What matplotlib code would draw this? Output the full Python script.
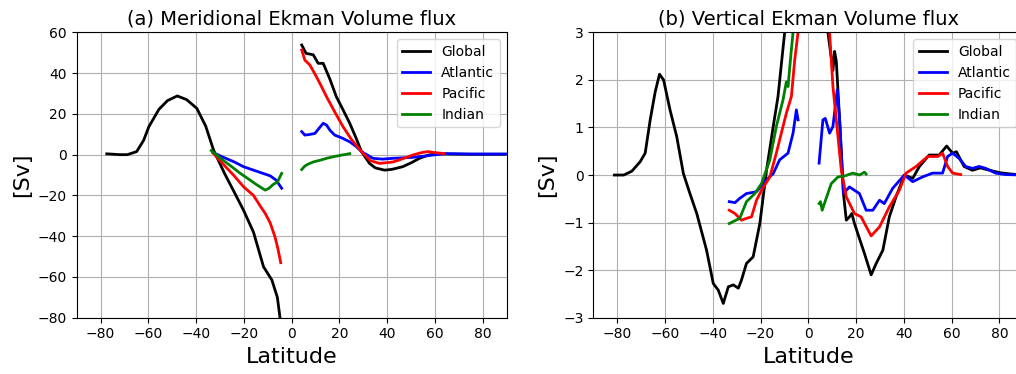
import numpy as np
import matplotlib
matplotlib.use("Agg")
from matplotlib import pyplot as plt

nan = np.nan

# (a) Meridional Ekman volume flux [Sv], south and north pieces split by nan
lat_a_glo = [-77.4, -72, -68.8, -64.9, -62, -59.8, -55.6, -52, -47.9, -44, -39.7, -36, -32.7, -28, -24, -20.2,
             -16, -11.8, -8.3, -6, -4.0,
             nan,
             4.2, 6.0, 9.0, 11.1, 13.2, 16, 18.7, 21.5, 24.3, 27, 29.2, 32.6, 35, 38.9, 42, 46.5, 50, 53.5, 57,
             60.5, 65, 75, 89]
val_a_glo = [0.4, 0.0, 0.0, 1.5, 7.0, 13.7, 22.2, 26.5, 28.8, 27.0, 22.7, 14.0, 2.2, -9.5, -18.5, -27.2,
             -38, -55, -61.5, -70, -88,
             nan,
             53.8, 49.7, 49.0, 44.8, 44.8, 37, 28.4, 22, 15.4, 8, 1.5, -4.3, -6.5, -7.6, -7.2, -5.9, -4, -1.8, -0.3,
             0.5, 0.3, 0.2, 0.2]

lat_a_atl = [-33, -28, -24, -20.2, -15, -11, -9, -6.5, -4.2,
             nan,
             4.2, 5.5, 7.5, 9.7, 11.5, 13.2, 14.6, 16, 18, 21, 24.3, 27, 29.2, 34, 38, 42.4, 46, 50.7, 55, 59,
             64.7, 75, 90]
val_a_atl = [1.0, -1.6, -3.6, -5.9, -8.0, -9.6, -10.4, -12.5, -16.5,
             nan,
             11.3, 9.6, 9.9, 10.4, 13.0, 15.4, 14.5, 12.0, 9.6, 8.2, 6.3, 4.0, 1.5, -1.8, -2.2, -1.8, -1.6, -1.3,
             -0.8, -0.2, 0.5, 0.3, 0.3]

lat_a_pac = [-32.7, -28, -24, -20.2, -16, -13, -11.1, -9, -7, -5.8, -4.6,
             nan,
             4.2, 5.5, 7.6, 10, 12, 14.6, 18, 21.5, 25, 29.2, 33, 36.8, 42.4, 46, 50.7, 54, 56.9, 60, 63.8]
val_a_pac = [0.5, -5.5, -10.5, -15.7, -20, -25.5, -28.8, -33.5, -40.3, -46, -53,
             nan,
             51.3, 46.4, 44.0, 39.0, 34.5, 28.4, 21.0, 13.7, 7.5, 1.5, -3.0, -4.3, -3.6, -2.2, -0.2, 0.9, 1.5, 1.0, 0.5]

lat_a_ind = [-33.7, -29, -25, -21.5, -18, -15, -11.1, -9.5, -7.6, -6, -4.2,
             nan,
             4.2, 5.5, 7, 9, 12, 14.6, 18, 21, 24.3]
val_a_ind = [2.0, -2.5, -6.0, -9.2, -12.0, -14.5, -17.4, -16.5, -14.5, -13.5, -9.2,
             nan,
             -7.3, -5.6, -4.6, -3.6, -2.7, -1.8, -0.9, -0.2, 0.5]

# (b) Vertical Ekman volume flux [Sv]
lat_b_glo = [-81.2, -77.3, -73.9, -70.4, -68.3, -66.2, -64.1, -62.3, -60.6, -57.9, -55.1, -52.3, -49.5, -46.7,
             -42.6, -39.8, -37.7, -35.6, -33.5, -31.4, -29.3, -28, -25.9, -23.1, -20.3, -17.5, -14.7, -12.7, -9.9,
             -8.5,
             nan,
             6.5, 8.2, 10.3, 11.0, 11.7, 13.1, 14.7, 15.9, 17.2, 18.2, 19.2, 20.7, 23.5, 26.3, 28.4, 31.2, 33.9,
             36.7, 40.2, 43.7, 46.5, 50.6, 54.8, 57.9, 60.4, 62.0, 65.2, 68.7, 72, 76, 80, 85, 90]
val_b_glo = [0.0, 0.0, 0.08, 0.28, 0.46, 1.16, 1.75, 2.12, 2.0, 1.37, 0.81, 0.03, -0.4, -0.81,
             -1.58, -2.28, -2.42, -2.70, -2.35, -2.31, -2.38, -2.21, -1.86, -1.72, -1.02, 0.1, 1.02, 1.65, 3.0,
             4.5,
             nan,
             4.5, 3.0, 2.2, 2.6, 2.4, 1.16, -0.39, -0.95, -0.88, -0.81, -1.0, -1.23, -1.65, -2.10, -1.86, -1.58, -0.88,
             -0.46, 0.0, -0.07, 0.18, 0.42, 0.42, 0.61, 0.46, 0.49, 0.18, 0.1, 0.15, 0.1, 0.05, 0.02, 0.0]

lat_b_atl = [-33.1, -30.7, -28.7, -25.9, -21.7, -17.5, -14.7, -12.0, -8.5, -6.4, -5.0, -4.3,
             nan,
             4.5, 6.1, 7.1, 8.9, 10.3, 12.1, 13.1, 14.7, 17.2, 21.4, 24.2, 27.0, 29.8, 31.8, 35.3, 40.2, 43.7,
             47.8, 52.0, 56.2, 58.3, 60.4, 63.1, 65.9, 68.7, 71.5, 74.3, 78.4, 82.6, 90]
val_b_atl = [-0.56, -0.58, -0.49, -0.39, -0.35, -0.1, 0.03, 0.32, 0.46, 0.88, 1.37, 1.16,
             nan,
             0.25, 1.16, 1.19, 0.88, 1.02, 1.79, 1.16, -0.39, -0.25, -0.39, -0.74, -0.74, -0.53, -0.6, -0.28, 0.0,
             -0.14, -0.04, 0.04, 0.04, 0.39, 0.46, 0.35, 0.18, 0.14, 0.18, 0.14, 0.04, 0.01, 0.0]

lat_b_pac = [-33.1, -30.7, -28.0, -25.9, -23.8, -21.7, -19.6, -16.1, -13.4, -11.3, -9.2, -7.1, -5.7, -4.3,
             -3.5,
             nan,
             7.5, 8.9, 10.3, 12.4, 13.8, 15.9, 19.3, 22.1, 26.3, 29.8, 33.9, 38.1, 40.9, 45.1, 50.0, 54.2, 56.2,
             58.3, 60.4, 63.8]
val_b_pac = [-0.74, -0.81, -0.95, -0.91, -0.88, -0.53, -0.32, -0.04, 0.46, 0.88, 1.30, 1.65, 2.42, 3.0,
             4.0,
             nan,
             4.0, 3.0, 1.86, 0.81, 0.1, -0.46, -0.81, -0.88, -1.28, -1.09, -0.67, -0.32, 0.04, 0.18, 0.39, 0.39,
             0.46, 0.18, 0.04, 0.01]

lat_b_ind = [-33.1, -28.7, -25.9, -22.4, -19.6, -16.1, -13.4, -10.6, -9.2, -8.5, -7.5, -6.4, -5.5,
             nan,
             4.5, 5.1, 5.8, 7.2, 9.6, 12.4, 15.2, 18.6, 21.4, 23.5, 24.2]
val_b_ind = [-1.02, -0.91, -0.56, -0.39, -0.18, 0.32, 1.02, 1.58, 1.96, 1.86, 2.42, 3.0, 3.8,
             nan,
             -0.6, -0.56, -0.74, -0.53, -0.18, -0.04, -0.02, 0.04, 0.0, 0.06, 0.02]

names = ["Global", "Atlantic", "Pacific", "Indian"]
colors = ["black", "blue", "red", "green"]

fig = plt.figure(figsize=(10.16, 3.74), dpi=100)
ax1 = fig.add_axes([0.0755, 0.1505, 0.4232, 0.763])
ax2 = fig.add_axes([0.584, 0.1505, 0.4232, 0.763])

panel_a = [(lat_a_glo, val_a_glo), (lat_a_atl, val_a_atl), (lat_a_pac, val_a_pac), (lat_a_ind, val_a_ind)]
panel_b = [(lat_b_glo, val_b_glo), (lat_b_atl, val_b_atl), (lat_b_pac, val_b_pac), (lat_b_ind, val_b_ind)]

for i, (x, y) in enumerate(panel_a):
    ax1.plot(x, y, color=colors[i], lw=2, label=names[i])
for i, (x, y) in enumerate(panel_b):
    ax2.plot(x, y, color=colors[i], lw=2, label=names[i])

ax1.set_ylim(-80, 60)
ax2.set_ylim(-3, 3)
ax1.set_title("(a) Meridional Ekman Volume flux", fontsize=14)
ax2.set_title("(b) Vertical Ekman Volume flux", fontsize=14)

for ax in [ax1, ax2]:
    ax.set_xlim(-90, 90)
    ax.set_xticks(np.arange(-80, 81, 20))
    ax.grid(True)
    ax.set_xlabel("Latitude", fontsize=16)
    ax.set_ylabel("[Sv]", fontsize=16)
    ax.legend(loc="upper right", fontsize=10)

fig.savefig("out.png", dpi=100)
